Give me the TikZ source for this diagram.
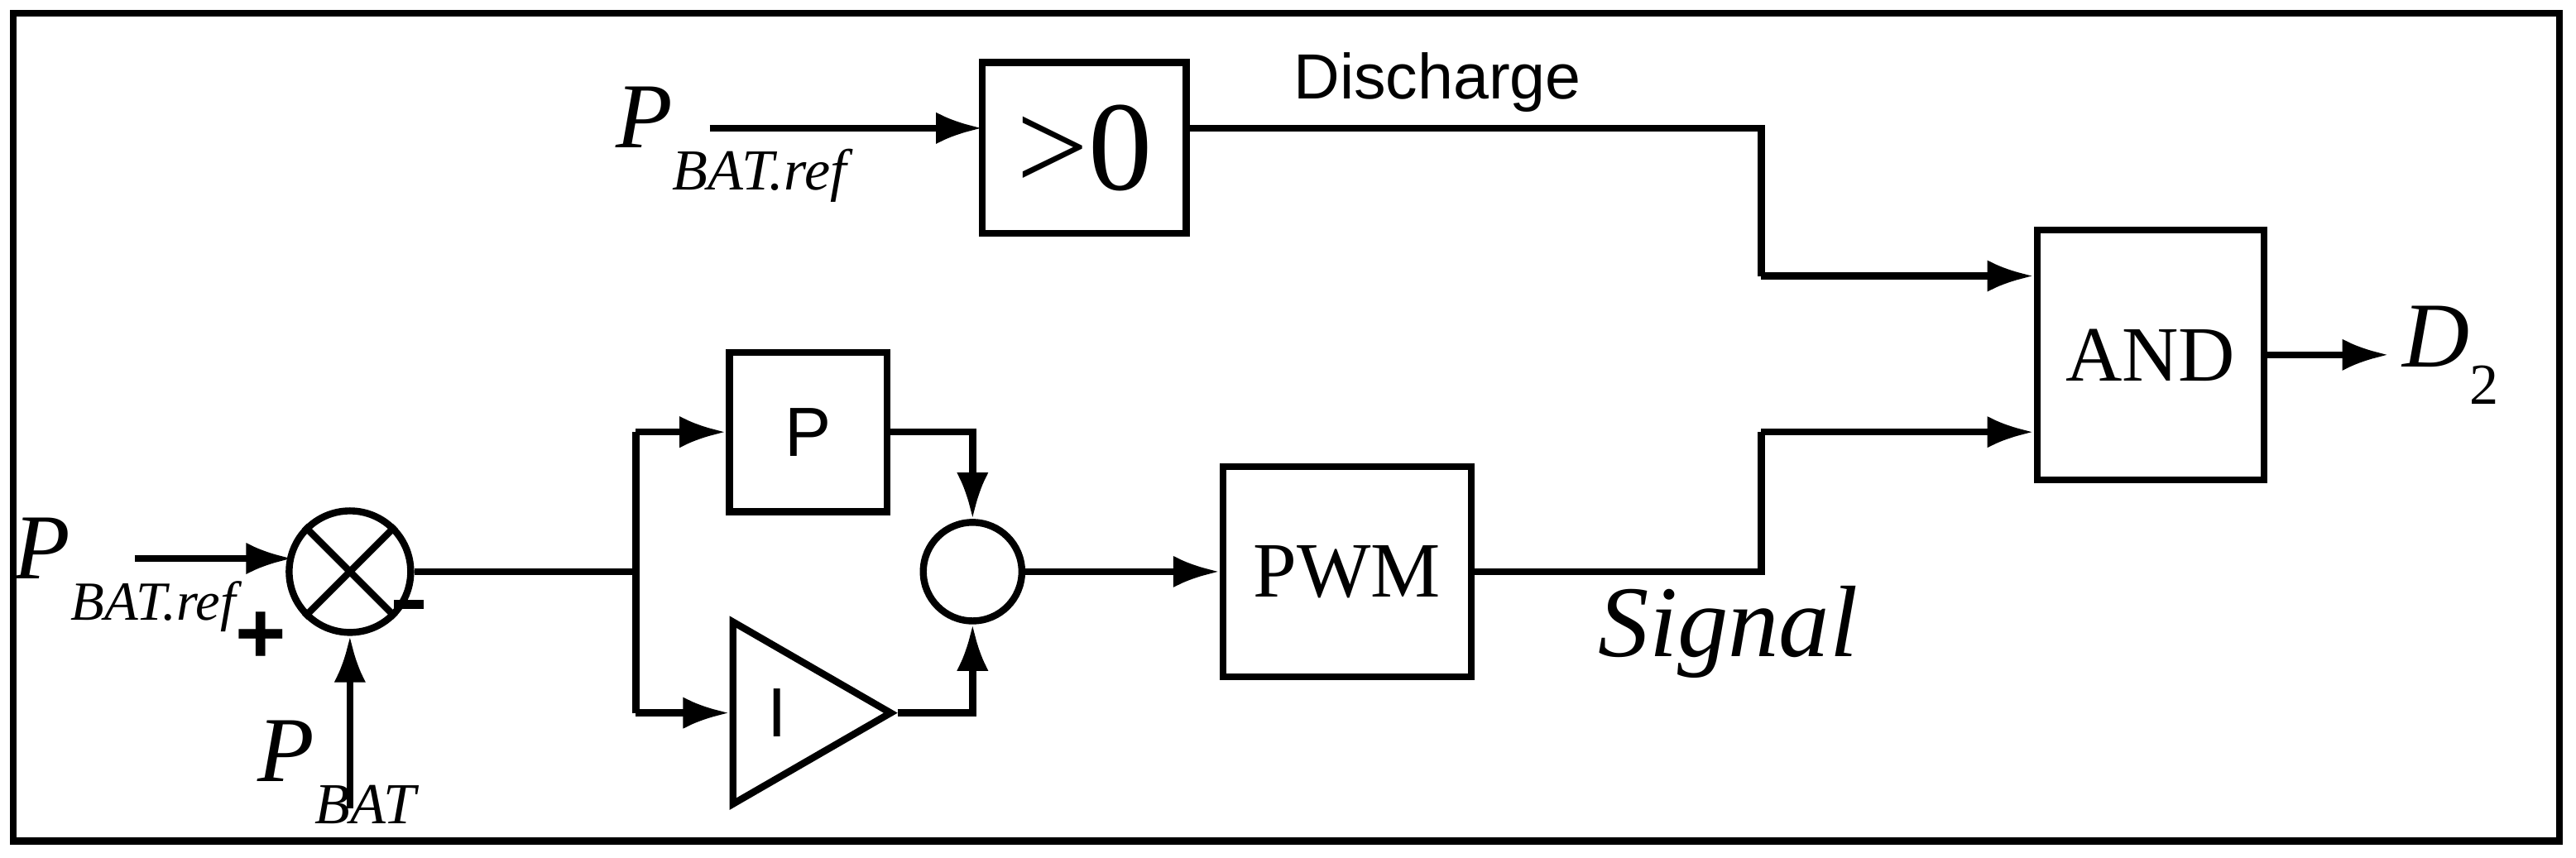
\documentclass[tikz,border=0pt]{standalone}
\usepackage{fontspec}
\setmainfont{Liberation Serif}
\newfontfamily\sff{Liberation Sans}
\usetikzlibrary{arrows.meta,shapes.geometric}
\begin{document}
\begin{tikzpicture}[x=0.0199cm,y=-0.0199cm,
  ln/.style={line width=2.4pt},
  ar/.style={ln,-{Latex[length=16pt,width=11pt]}},
  blk/.style={draw,line width=2.4pt,inner sep=0pt},
  lab/.style={font=\fontsize{32}{34}\selectfont\itshape}]
\useasboundingbox (0,0) rectangle (1568,522);
\draw[line width=2.4pt] (8,8) rectangle (1558,512);
% top
\node[blk,minimum width=124*0.0199cm,minimum height=104*0.0199cm,font=\fontsize{44}{46}\selectfont] (gt) at (660,90) {>0};
\node[lab] (pr1) at (445,88) {P\raisebox{-0.45em}{\fontsize{20}{22}\selectfont BAT.ref}};
\coordinate (pr1e) at (432,78);
\draw[ar] (pr1e) -- (598,78);
\node[font=\fontsize{22}{24}\selectfont\sff] (dis) at (875,50) {Discharge};
\node[blk,minimum width=138*0.0199cm,minimum height=152*0.0199cm,font=\fontsize{27}{29}\selectfont] (and) at (1309,216) {AND};
\draw[ln] (722,78) -- (1072,78) -- (1072,168);
\draw[ar] (1072,168) -- (and.west|-1072,168);
\coordinate (d2a) at (1454,216);
\draw[ar] (and.east) -- (d2a);
\node[lab,anchor=west] (d2) at (1456,216) {D\raisebox{-0.4em}{\fontsize{20}{22}\selectfont\upshape 2}};
% bottom
\node[lab] (pr2) at (76,350) {P\raisebox{-0.45em}{\fontsize{19}{21}\selectfont BAT.ref}};
\node[draw,circle,line width=2.4pt,minimum size=74*0.0199cm,inner sep=0pt] (sum) at (213,348) {};
\draw[ln] (sum.north west) -- (sum.south east) (sum.north east) -- (sum.south west);
\coordinate (pr2e) at (82,340);
\draw[ar] (pr2e) -- (178,340);
\node[font=\fontsize{30}{30}\selectfont\sff\bfseries] (plus) at (159,388) {+};
\coordinate (mA) at (240,368);
\coordinate (mB) at (258,368);
\draw[line width=3pt] (mA) -- (mB);
\node[lab] (pb) at (205,470) {P\raisebox{-0.45em}{\fontsize{20}{22}\selectfont BAT}};
\coordinate (pbs) at (213,492);
\draw[ar] (pbs) -- (sum.south);
\coordinate (br) at (387,348);
\draw[ln] (sum.east) -- (br);
\node[blk,minimum width=96*0.0199cm,minimum height=97*0.0199cm,font=\fontsize{24}{26}\selectfont\sff] (P) at (492,263) {P};
\node[draw,isosceles triangle,isosceles triangle apex angle=60,line width=2.4pt,minimum height=96*0.0199cm,inner sep=0pt,anchor=west] (I) at (444,434) {};
\node[font=\fontsize{24}{26}\selectfont\sff] (Il) at (473,434) {I};
\draw[ln] (387,263) -- (387,434);
\draw[ar] (387,263) -- (P.west);
\draw[ar] (387,434) -- (I.west);
\node[draw,circle,line width=2.4pt,minimum size=60*0.0199cm,inner sep=0pt] (add) at (592,348) {};
\draw[ar] (P.east) -- (592,263) -- (add.north);
\draw[ar] (I.apex) -- (592,434) -- (add.south);
\node[blk,minimum width=151*0.0199cm,minimum height=128*0.0199cm,font=\fontsize{27}{29}\selectfont] (pwm) at (820,348) {PWM};
\draw[ar] (add.east) -- (pwm.west);
\draw[ln] (pwm.east) -- (1072,348) -- (1072,263);
\draw[ar] (1072,263) -- (and.west|-1072,263);
\node[font=\fontsize{35}{37}\selectfont\itshape] (sig) at (1052,385) {Signal};
\end{tikzpicture}
\end{document}
